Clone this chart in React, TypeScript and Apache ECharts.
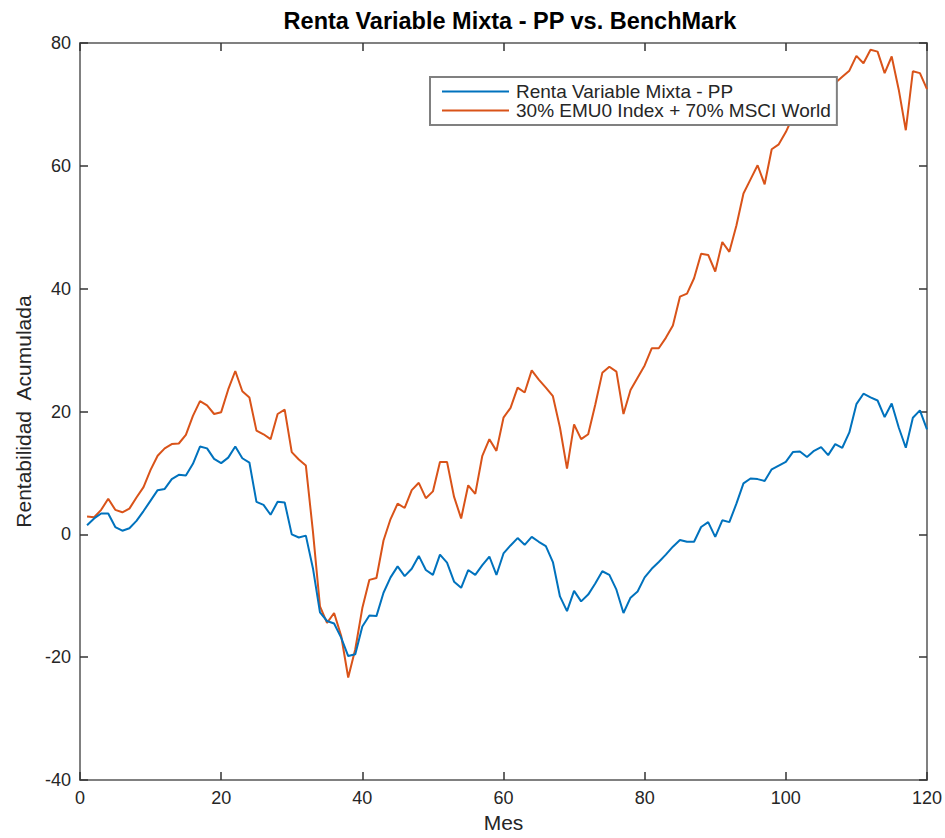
import React, { useEffect, useRef } from "react";
import * as echarts from "echarts";

const TITLE = "Renta Variable Mixta - PP vs. BenchMark";
const SERIES_NAMES = ["Renta Variable Mixta - PP", "30% EMU0 Index + 70% MSCI World"];
const X_TICKS = [0, 20, 40, 60, 80, 100, 120];
const Y_TICKS = [-40, -20, 0, 20, 40, 60, 80];

const fund = [
  1.5, 2.6, 3.4, 3.4, 1.2, 0.6, 1.0, 2.2, 3.8, 5.5,
  7.2, 7.4, 9.0, 9.7, 9.6, 11.5, 14.3, 14.0, 12.3, 11.6,
  12.5, 14.3, 12.4, 11.7, 5.3, 4.8, 3.2, 5.3, 5.2, 0.0,
  -0.5, -0.2, -5.5, -12.7, -14.1, -14.5, -16.8, -19.8, -19.5, -15.0,
  -13.2, -13.3, -9.5, -7.0, -5.2, -6.8, -5.6, -3.5, -5.8, -6.6,
  -3.3, -4.6, -7.7, -8.7, -5.8, -6.6, -5.0, -3.6, -6.6, -3.1,
  -1.8, -0.6, -1.7, -0.4, -1.2, -1.9, -4.5, -10.1, -12.5, -9.2,
  -10.9, -9.8, -8.0, -6.0, -6.6, -9.0, -12.8, -10.3, -9.3, -7.0,
  -5.6, -4.5, -3.3, -2.0, -0.9, -1.2, -1.2, 1.2, 2.0, -0.4,
  2.3, 2.0, 5.0, 8.3, 9.1, 9.0, 8.7, 10.6, 11.2, 11.8,
  13.4, 13.5, 12.6, 13.6, 14.2, 12.9, 14.7, 14.1, 16.6, 21.2,
  22.9, 22.3, 21.8, 19.1, 21.3, 17.4, 14.1, 19.0, 20.2, 17.1,
];

const bench = [
  2.9, 2.8, 4.0, 5.8, 4.0, 3.6, 4.2, 6.0, 7.7, 10.5,
  12.8, 14.0, 14.7, 14.8, 16.2, 19.3, 21.7, 21.0, 19.6, 19.9,
  23.6, 26.6, 23.3, 22.3, 16.9, 16.3, 15.5, 19.6, 20.3, 13.4,
  12.2, 11.2, 0.5, -11.7, -14.4, -12.8, -16.5, -23.3, -18.7, -12.0,
  -7.4, -7.1, -1.0, 2.5, 5.0, 4.3, 7.2, 8.4, 5.9, 7.0,
  11.8, 11.8, 6.1, 2.6, 8.0, 6.6, 12.8, 15.5, 13.6, 19.0,
  20.6, 23.9, 23.1, 26.7, 25.2, 23.9, 22.5, 17.4, 10.7, 17.9,
  15.5, 16.3, 21.1, 26.3, 27.3, 26.5, 19.6, 23.5, 25.5, 27.5,
  30.3, 30.3, 32.0, 34.0, 38.7, 39.2, 41.7, 45.7, 45.5, 42.8,
  47.6, 46.0, 50.3, 55.5, 57.8, 60.1, 57.0, 62.7, 63.5, 65.5,
  68.0, 69.5, 70.5, 71.5, 72.5, 73.0, 73.5, 74.5, 75.5, 77.9,
  76.7, 78.9, 78.6, 75.1, 77.8, 72.4, 65.8, 75.4, 75.1, 72.5,
];

const months = fund.map((_, i) => i + 1);

const FONT = "Liberation Sans";
const AXIS_COLOR = "#808080";
const TEXT_COLOR = "#262626";

export default function App() {
  const ref = useRef<HTMLDivElement>(null);
  useEffect(() => {
    if (!ref.current) return;
    const chart = echarts.init(ref.current, null, { renderer: "svg" });
    const axisCommon = {
      type: "value" as const,
      axisLine: { show: true, onZero: false, lineStyle: { color: AXIS_COLOR, width: 2 } },
      axisTick: { show: true, inside: true, length: 8, lineStyle: { color: "#333", width: 1.5 } },
      splitLine: { show: false },
    };
    chart.setOption({
      animation: false,
      backgroundColor: "#fff",
      title: {
        text: TITLE,
        left: 505,
        textAlign: "center",
        top: 4,
        textStyle: { fontFamily: FONT, fontSize: 23.5, fontWeight: "bold", color: "#000" },
      },
      legend: {
        left: 430,
        top: 77,
        orient: "vertical",
        backgroundColor: "#fff",
        borderColor: AXIS_COLOR,
        borderWidth: 2,
        borderRadius: 0,
        padding: [5, 6, 5, 12],
        itemGap: 0,
        itemWidth: 67,
        itemHeight: 2,
        icon: "rect",
        textStyle: {
          fontFamily: FONT,
          fontSize: 19,
          lineHeight: 19,
          color: TEXT_COLOR,
          padding: [0, 0, 0, 2],
        },
        data: SERIES_NAMES,
      },
      grid: { left: 80, right: 17, top: 43, bottom: 53, containLabel: false },
      xAxis: [
        {
          ...axisCommon,
          position: "bottom",
          min: X_TICKS[0],
          max: X_TICKS[X_TICKS.length - 1],
          interval: 20,
          name: "Mes",
          nameLocation: "middle",
          nameGap: 31,
          nameTextStyle: { fontFamily: FONT, fontSize: 21, color: TEXT_COLOR },
          axisLabel: { fontFamily: FONT, fontSize: 18, color: TEXT_COLOR, margin: 9 },
        },
        {
          ...axisCommon,
          position: "top",
          min: X_TICKS[0],
          max: X_TICKS[X_TICKS.length - 1],
          interval: 20,
          axisLabel: { show: false },
        },
      ],
      yAxis: [
        {
          ...axisCommon,
          position: "left",
          min: Y_TICKS[0],
          max: Y_TICKS[Y_TICKS.length - 1],
          interval: 20,
          name: "Rentabilidad  Acumulada",
          nameLocation: "middle",
          nameGap: 46,
          nameRotate: 90,
          nameTextStyle: { fontFamily: FONT, fontSize: 21, color: TEXT_COLOR },
          axisLabel: { fontFamily: FONT, fontSize: 18, color: TEXT_COLOR, margin: 9 },
        },
        {
          ...axisCommon,
          position: "right",
          min: Y_TICKS[0],
          max: Y_TICKS[Y_TICKS.length - 1],
          interval: 20,
          axisLabel: { show: false },
        },
      ],
      series: [
        {
          name: SERIES_NAMES[0],
          type: "line",
          data: months.map((m, i) => [m, fund[i]]),
          showSymbol: false,
          symbol: "none",
          lineStyle: { color: "#0072BD", width: 2 },
          itemStyle: { color: "#0072BD" },
          z: 3,
        },
        {
          name: SERIES_NAMES[1],
          type: "line",
          data: months.map((m, i) => [m, bench[i]]),
          showSymbol: false,
          symbol: "none",
          lineStyle: { color: "#D95319", width: 2 },
          itemStyle: { color: "#D95319" },
          z: 2,
        },
      ],
    });
    return () => chart.dispose();
  }, []);
  return (
    <div
      ref={ref}
      style={{ position: "absolute", left: 0, top: 0, width: 945, height: 838 }}
    />
  );
}
